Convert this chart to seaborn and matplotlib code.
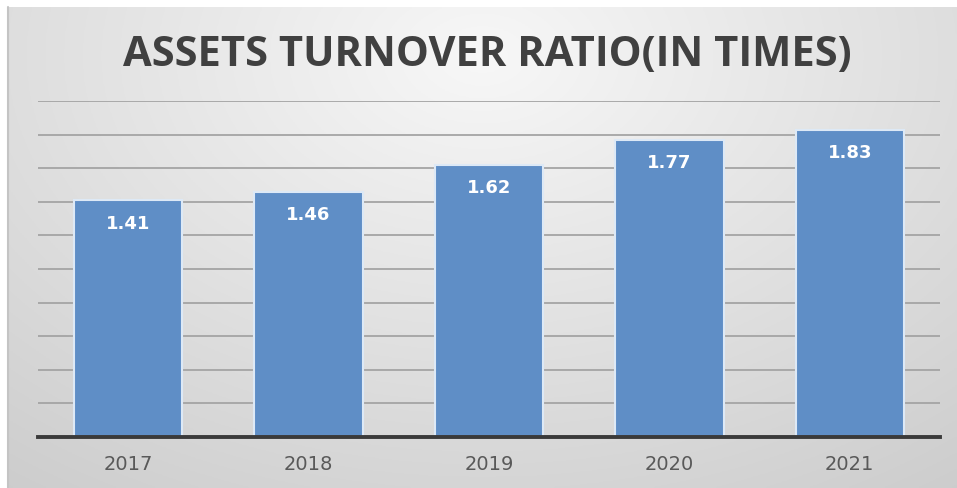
import numpy as np
import pandas as pd
import matplotlib
matplotlib.use("Agg")
import matplotlib.pyplot as plt
import seaborn as sns

years = ["2017", "2018", "2019", "2020", "2021"]
values = [1.41, 1.46, 1.62, 1.77, 1.83]
labels = ["1.41", "1.46", "1.62", "1.77", "1.83"]
title = "ASSETS TURNOVER RATIO(IN TIMES)"

sns.set_theme(style="white")
plt.rcParams["font.family"] = ["DejaVu Sans"]

W, H = 957, 488
fig = plt.figure(figsize=(W / 100, H / 100), dpi=100, facecolor="white")

# background gradient panel
bg = fig.add_axes([8 / W, 0, 1 - 8 / W, (H - 7) / H])
bg.set_axis_off()
ny, nx = 200, 400
yy, xx = np.mgrid[0:1:ny * 1j, 0:1:nx * 1j]
d = np.sqrt(((xx - 0.5) / 0.75) ** 2 + ((yy - 0.1) / 1.0) ** 2)
val = 0.97 - 0.17 * np.clip(d, 0, 1.2) / 1.2 * 1.05
img = np.dstack([val, val, val])
bg.imshow(img, extent=[0, 1, 0, 1], origin="upper", aspect="auto")
bg.set_xlim(0, 1)
bg.set_ylim(0, 1)
# left border line
fig.add_artist(plt.Line2D([8 / W, 8 / W], [0, (H - 7) / H], color="#c4c4c4", lw=1.5))

# title
fig.text(487.5 / W, 1 - 56 / H, title, ha="center", va="center",
         fontsize=30, fontweight="bold", color="#404040", family=["Open Sans", "DejaVu Sans"])

ax = fig.add_axes([38 / W, (H - 437) / H, (940 - 38) / W, (437 - 101) / H])
ax.patch.set_alpha(0)

df = pd.DataFrame({"year": years, "value": values})
sns.barplot(data=df, x="year", y="value", color="#5F8EC6", saturation=1,
            width=0.6, edgecolor="#dde9f6", linewidth=1.5, ax=ax, zorder=3)

ax.set_ylim(0, 2.0)
ax.set_xlim(-0.5, len(years) - 0.5)
ax.set_yticks(np.arange(0, 2.01, 0.2))
ax.set_yticklabels([])
ax.tick_params(axis="y", length=0)
ax.yaxis.grid(True, color="#a4a4a4", lw=1.3, zorder=0)
ax.set_axisbelow(True)
for s in ["top", "right", "left"]:
    ax.spines[s].set_visible(False)
ax.spines["bottom"].set_color("#3a3a3a")
ax.spines["bottom"].set_linewidth(2.8)
ax.spines["bottom"].set_zorder(5)
ax.set_xlabel("")
ax.set_ylabel("")
ax.tick_params(axis="x", length=0, pad=13, labelsize=14, labelcolor="#595959")

for i, (v, lab) in enumerate(zip(values, labels)):
    ax.annotate(lab, xy=(i, v), xytext=(0, -17), textcoords="offset points",
                ha="center", va="center", color="white", fontsize=13,
                fontweight="bold", zorder=6)

fig.savefig("out.png", dpi=100, facecolor="white")
